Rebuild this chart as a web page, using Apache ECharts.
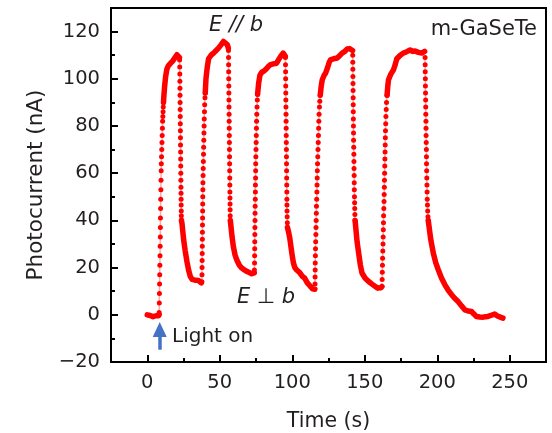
<!DOCTYPE html>
<html>
<head>
<meta charset="utf-8">
<script src="https://cdn.jsdelivr.net/npm/echarts@6/dist/echarts.min.js"></script>
<style>html,body{margin:0;padding:0;background:#fff}#c{width:552px;height:433px}</style>
</head>
<body>
<div id="c"></div>
<script>
// ---- data: [time (s), photocurrent (nA)] ----
const baseline = [[0,0],[1,0.3],[2,-0.3],[3,0],[4,-0.8],[5,-0.9],[6,-0.4],[7,-0.8],[7.7,-0.4],[8.2,0]];
const rise1 = [[8.2,1],[8.3,5],[8.4,9],[8.5,13],[8.6,17],[8.7,21],[8.8,25],[8.9,29],[9.0,33],[9.05,37],[9.1,41],[9.2,45],[9.3,49],[9.4,53],[9.5,57],[9.6,61],[9.7,64],[9.85,67],[10.0,70],[10.15,73],[10.3,76],[10.45,79],[10.6,82],[10.75,84],[10.9,86],[11.05,88],[11.2,90]];
const top1 = [[11.2,90],[11.5,93],[12,97],[12.7,101],[13.5,104],[14.5,105.5],[16,106.5],[17.5,107.5],[18.5,108.3],[19.5,109.3],[20.5,110.2],[21.3,109.6],[22.2,109]];
const fall1 = [[22.3,108],[22.4,105],[22.45,102],[22.5,99],[22.55,96],[22.6,93],[22.65,90],[22.7,87],[22.75,84],[22.8,81],[22.85,78],[22.9,75],[22.95,72],[23.0,69],[23.05,66],[23.1,63],[23.15,60],[23.2,57],[23.25,54],[23.3,51.5],[23.35,49],[23.4,46.5],[23.45,44],[23.5,42],[23.6,40]];
const decay1 = [[23.6,40],[24,38.5],[25.1,31.8],[26.2,27],[27.4,22.5],[28.5,19],[29.7,16.2],[31,15],[32,14.8],[33.5,14.6],[34.5,14.8],[35.4,14.5],[36.6,14],[37.3,13.5],[37.7,13.4]];
const rise2 = [[37.7,14],[37.75,17],[37.8,20],[37.85,23],[37.9,26],[37.95,29],[38.0,32],[38.05,35],[38.1,38],[38.15,41],[38.2,44],[38.25,47],[38.3,50],[38.35,53],[38.4,56],[38.5,59],[38.6,62],[38.7,65],[38.8,68],[38.9,71],[39.0,74],[39.1,77],[39.2,80],[39.3,83],[39.45,86],[39.6,89],[39.8,92],[40.0,94]];
const top2 = [[40,94],[40.5,100],[41.3,104.5],[42.3,108.5],[44,110],[45.7,110.9],[47.5,112],[49.1,113],[51,114.5],[52.5,115.8],[53.8,115.5],[55.2,114.5],[55.9,113]];
const fall2 = [[56.0,112],[56.05,109],[56.1,106],[56.15,103],[56.2,100],[56.25,97],[56.3,94],[56.35,91],[56.4,88],[56.45,85],[56.5,82],[56.55,79],[56.6,76],[56.65,73],[56.7,70],[56.75,67],[56.8,64],[56.85,61],[56.9,58],[56.95,55],[57.0,52],[57.05,49.5],[57.1,47],[57.15,44.5],[57.2,42],[57.3,40]];
const decay2 = [[57.3,40],[58.5,33],[59.4,28.9],[60.5,25.5],[61.7,23.3],[63.5,21],[65.2,19.8],[67,19],[68.6,18.4],[70.5,17.9],[72,17.4],[73,17.5],[73.8,17.8]];
const rise3 = [[73.9,19],[74.0,22],[74.05,25],[74.1,28],[74.15,31],[74.2,34],[74.25,37],[74.3,40],[74.35,43],[74.4,46],[74.5,49],[74.55,52],[74.6,55],[74.7,58],[74.75,61],[74.8,64],[74.9,67],[75.0,70],[75.1,73],[75.2,76],[75.3,79],[75.4,82],[75.55,85],[75.7,88],[75.9,91],[76.1,93.5]];
const top3 = [[76.1,93.5],[76.8,98],[77.7,101.5],[79,102.8],[80.5,103.3],[82.3,104.3],[83.4,105.2],[85,106],[87,106.3],[89.2,106.6],[90.5,108],[92,109.5],[93.7,110.9],[94.6,110.5],[95.2,109.5]];
const fall3 = [[95.3,109],[95.35,106],[95.4,103],[95.45,100],[95.5,97],[95.55,94],[95.6,91],[95.65,88],[95.7,85],[95.75,82],[95.8,79],[95.85,76],[95.9,73],[95.95,70],[96.0,67],[96.05,64],[96.1,61],[96.15,58],[96.2,55],[96.25,52],[96.3,49],[96.35,46.5],[96.4,44],[96.5,41.5],[96.6,39],[96.7,37]];
const decay3 = [[96.7,37],[97.5,35],[98.3,32.5],[99.2,28.5],[100,25],[100.8,22],[101.8,20],[103,19],[105,18],[107,16.3],[108.6,15.5],[110.4,13.5],[112,12.4],[113.9,11],[115,10.6],[115.6,10.8]];
const rise4 = [[115.7,13],[115.75,16],[115.8,19],[115.85,22],[115.95,25],[116.05,28],[116.15,31],[116.3,34],[116.4,37],[116.5,40],[116.6,43],[116.7,46],[116.85,49],[117,52],[117.1,55],[117.2,58],[117.3,61],[117.45,64],[117.6,67],[117.75,70],[117.9,73],[118.05,76],[118.2,79],[118.35,82],[118.5,85],[118.75,88],[119,90.5],[119.3,93]];
const top4 = [[119.3,93],[120,97],[120.7,99.6],[122,101.5],[123,102.4],[124.5,105],[125.5,107],[126.4,108],[128.5,108.5],[131,108.8],[133,110],[134.4,110.9],[136,111.5],[137.9,112.6],[138.8,111.8],[139.5,112.8],[140.8,112.6],[141.6,112]];
const fall4 = [[141.7,110],[141.75,107],[141.8,104],[141.85,101],[141.9,98],[141.95,95],[142.0,92],[142.05,89],[142.1,86],[142.15,83],[142.2,80],[142.25,77],[142.3,74],[142.4,71],[142.5,68],[142.55,65],[142.6,62],[142.7,59],[142.75,56],[142.8,53],[142.9,50],[143.0,47.5],[143.1,45],[143.2,42.5],[143.35,40]];
const decay4 = [[143.35,40],[144.7,31],[145.8,26.1],[147,21],[148.1,17.7],[150.3,15.5],[152.7,14.1],[155,13],[157.3,12],[159,11.3],[160.3,12],[161.2,11.5],[161.9,12]];
const rise5 = [[162,15],[162.1,18],[162.2,21],[162.3,24],[162.45,27],[162.6,30],[162.7,33],[162.8,36],[162.9,39],[163,42],[163.15,45],[163.3,48],[163.4,51],[163.5,54],[163.6,57],[163.7,60],[163.8,63],[163.9,66],[164.0,69],[164.1,72],[164.2,75],[164.3,78],[164.45,81],[164.6,84],[164.8,87],[165.0,90],[165.4,93]];
const top5 = [[165.4,93],[165.9,97],[166.4,99.6],[168,102],[169.8,103.8],[171,106],[172.1,108.5],[174.5,110],[176.7,110.9],[179,111.5],[181.3,112.2],[183,111.6],[184.7,111.8],[187,111.2],[189.3,110.9],[190.5,111.3],[191.3,111.6]];
const fall5 = [[191.6,109],[191.65,106],[191.7,103],[191.8,100],[191.85,97],[191.9,94],[192,91],[192.05,88],[192.1,85],[192.2,82],[192.25,79],[192.3,76],[192.4,73],[192.5,70],[192.55,67],[192.6,64],[192.7,61],[192.8,58],[192.9,55],[193,52],[193.1,49],[193.25,46.5],[193.4,44],[193.6,41.5],[193.8,40]];
const decay5 = [[193.8,40],[195.5,32],[197.3,26.1],[199,22],[200.7,19.1],[203,15.5],[205.3,12.7],[207.5,10.5],[209.9,8.5],[212,7],[214.4,5.6],[216.7,3.8],[219,2.1],[221.3,1.6],[223.6,1.4],[225.3,0.3],[227,-0.7],[229.3,-0.9],[231.6,-1],[233.3,-0.8],[235,-0.7],[237.3,-0.2],[239.6,0.3],[241.5,-0.5],[243.5,-1],[245.3,-1.4]];

const xMajorTicks = [0, 50, 100, 150, 200, 250];
const xMinorTicks = [25, 75, 125, 175, 225];
const yMajorTicks = [-20, 0, 20, 40, 60, 80, 100, 120];
const yMinorTicks = [-10, 10, 30, 50, 70, 90, 110];
const lightOnArrow = [[8.6, -14.8], [8.6, -6.2]];

const denseSegments = [baseline, top1, decay1, top2, decay2, top3, decay3, top4, decay4, top5, decay5];
const edgeSegments = [rise1, fall1, rise2, fall2, rise3, fall3, rise4, fall4, rise5, fall5];

const FONT = '"DejaVu Sans", sans-serif';
const TXT = '#231f20';
const RED = '#ff0000';

const series = [];
denseSegments.forEach(function (seg) {
  series.push({
    type: 'line', data: seg, xAxisIndex: 0, yAxisIndex: 0,
    showSymbol: false, symbol: 'none', silent: true,
    lineStyle: { color: RED, width: 5.5, cap: 'round', join: 'round' }
  });
});
edgeSegments.forEach(function (seg) {
  series.push({
    type: 'line', data: seg, xAxisIndex: 0, yAxisIndex: 0,
    symbol: 'circle', symbolSize: 5, showSymbol: true, silent: true,
    itemStyle: { color: RED },
    lineStyle: { color: 'rgba(255,0,0,0.35)', width: 1.5 }
  });
});
series.push({
  type: 'line', data: [], xAxisIndex: 0, yAxisIndex: 0,
  markLine: {
    silent: true, symbol: ['none', 'triangle'], symbolSize: [14, 15],
    label: { show: false },
    lineStyle: { color: '#4472c4', width: 3.5, type: 'solid' },
    data: [[{ coord: lightOnArrow[0] }, { coord: lightOnArrow[1] }]]
  }
});

const chart = echarts.init(document.getElementById('c'), null, { renderer: 'canvas' });
chart.setOption({
  animation: false,
  backgroundColor: '#ffffff',
  grid: [
    { left: 111, top: 8, width: 435, height: 354, outerBoundsMode: 'none', containLabel: false, show: true, borderColor: '#000', borderWidth: 2, backgroundColor: 'transparent' },
    { left: 111, top: 8, width: 435, height: 354, outerBoundsMode: 'none', containLabel: false, show: false }
  ],
  xAxis: [
    {
      type: 'value', gridIndex: 0, min: -25, max: 275, position: 'bottom',
      name: 'Time (s)', nameLocation: 'middle', nameGap: 49,
      nameTextStyle: { fontFamily: FONT, fontSize: 20.5, color: TXT },
      axisLine: { show: false, onZero: false },
      axisTick: { show: true, inside: true, length: 7, customValues: xMajorTicks, lineStyle: { color: '#000', width: 2 } },
      axisLabel: { customValues: xMajorTicks, fontFamily: FONT, fontSize: 19.5, color: TXT, margin: 11 },
      splitLine: { show: false }
    },
    {
      type: 'value', gridIndex: 1, min: -25, max: 275, position: 'bottom',
      axisLine: { show: false, onZero: false },
      axisTick: { show: true, inside: true, length: 4, customValues: xMinorTicks, lineStyle: { color: '#000', width: 2 } },
      axisLabel: { show: false, customValues: xMinorTicks },
      splitLine: { show: false }
    }
  ],
  yAxis: [
    {
      type: 'value', gridIndex: 0, min: -20, max: 130, position: 'left',
      name: 'Photocurrent (nA)', nameLocation: 'middle', nameGap: 64, nameRotate: 90,
      nameTextStyle: { fontFamily: FONT, fontSize: 21.5, color: TXT },
      axisLine: { show: false, onZero: false },
      axisTick: { show: true, inside: true, length: 7, customValues: yMajorTicks, lineStyle: { color: '#000', width: 2 } },
      axisLabel: {
        customValues: yMajorTicks, fontFamily: FONT, fontSize: 19.5, color: TXT, margin: 11,
        formatter: function (v) { return v < 0 ? '\u2212' + Math.abs(v) : String(v); }
      },
      splitLine: { show: false }
    },
    {
      type: 'value', gridIndex: 1, min: -20, max: 130, position: 'left',
      axisLine: { show: false, onZero: false },
      axisTick: { show: true, inside: true, length: 4, customValues: yMinorTicks, lineStyle: { color: '#000', width: 2 } },
      axisLabel: { show: false, customValues: yMinorTicks },
      splitLine: { show: false }
    }
  ],
  series: series,
  graphic: [
    { type: 'text', x: 236, y: 26, style: { text: 'E // b', font: 'italic 21px ' + FONT, fill: TXT, align: 'center', verticalAlign: 'middle' } },
    { type: 'text', x: 537, y: 30, style: { text: 'm-GaSeTe', font: '21px ' + FONT, fill: TXT, align: 'right', verticalAlign: 'middle' } },
    { type: 'text', x: 266, y: 298, style: {
        text: '{i|E} {n|\u22a5} {i|b}', align: 'center', verticalAlign: 'middle',
        rich: {
          i: { fontFamily: FONT, fontSize: 21, fontStyle: 'italic', fill: TXT, color: TXT },
          n: { fontFamily: FONT, fontSize: 21, fill: TXT, color: TXT }
        },
        font: '21px ' + FONT, fill: TXT } },
    { type: 'text', x: 172, y: 337, style: { text: 'Light on', font: '20px ' + FONT, fill: TXT, align: 'left', verticalAlign: 'middle' } }
  ]
});
</script>
</body>
</html>
